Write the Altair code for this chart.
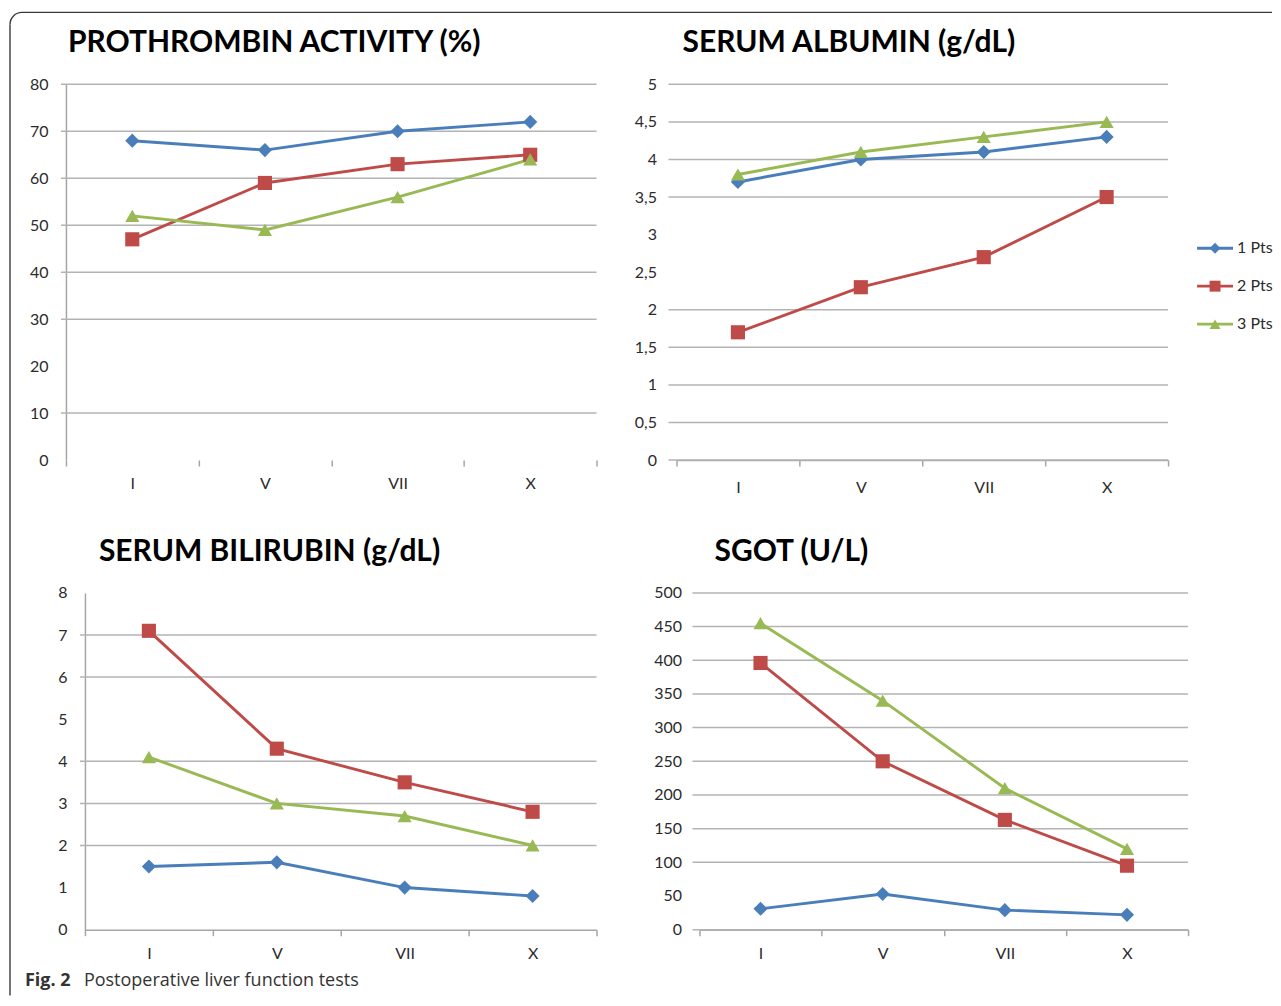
import math
import altair as alt
import pandas as pd

# ---------------- data ----------------
days = ["I", "V", "VII", "X"]
series = ["1 Pts", "2 Pts", "3 Pts"]
colors = ["#4a7ebb", "#be4b48", "#98b954"]
shapes = ["diamond", "square", "triangle-up"]

prothrombin_1 = [68, 66, 70, 72]
prothrombin_2 = [47, 59, 63, 65]
prothrombin_3 = [52, 49, 56, 64]

albumin_1 = [3.7, 4.0, 4.1, 4.3]
albumin_2 = [1.7, 2.3, 2.7, 3.5]
albumin_3 = [3.8, 4.1, 4.3, 4.5]

bilirubin_1 = [1.5, 1.6, 1.0, 0.8]
bilirubin_2 = [7.1, 4.3, 3.5, 2.8]
bilirubin_3 = [4.1, 3.0, 2.7, 2.0]

sgot_1 = [31, 53, 29, 22]
sgot_2 = [396, 250, 163, 95]
sgot_3 = [455, 340, 210, 120]

titles = ["PROTHROMBIN ACTIVITY (%)", "SERUM ALBUMIN (g/dL)",
          "SERUM BILIRUBIN (g/dL)", "SGOT (U/L)"]
caption_bold = "Fig. 2"
caption_text = "Postoperative liver function tests"

# gridlines that are visible in the reference picture
grid_A = [10, 30, 40, 50, 60, 70, 80]
grid_B = [0, 0.5, 1, 1.5, 2, 3.5, 4, 4.5, 5]
grid_C = [2, 3, 4, 6, 7]
grid_D = [0, 100, 150, 200, 250, 300, 350, 400, 450, 500]

# ---------------- style ----------------
GRID = "#b3b3b3"
AXIS = "#a6a6a6"
LABEL = "#2b2b2b"
FONT = "Lato"


def long_df(s1, s2, s3):
    rows = []
    for name, vals in zip(series, [s1, s2, s3]):
        for d, v in zip(days, vals):
            rows.append({"day": d, "series": name, "value": v})
    return pd.DataFrame(rows)


color_enc = alt.Color("series:N", scale=alt.Scale(domain=series, range=colors),
                      legend=None)
shape_enc = alt.Shape("series:N", scale=alt.Scale(domain=series, range=shapes),
                      legend=None)


def panel(df, grid_vals, title, w, h, ymax, ystep, ydom, xdom, ytick, ylabpad,
          xlabpad, tdx, comma=False, legend=False):
    n = int(round(ymax / ystep))
    ticks = [round(i * ystep, 3) for i in range(n + 1)]
    expr = "replace('' + datum.value, '.', ',')" if comma else "'' + datum.value"
    x = alt.X(
        "day:N", sort=days, bandPosition=0.5,
        scale=alt.Scale(type="band", paddingInner=0, paddingOuter=0),
        axis=alt.Axis(title=None, labelAngle=0, tickBand="extent", grid=False,
                      domain=xdom, domainColor=AXIS, domainWidth=1.5,
                      ticks=True, tickColor=AXIS, tickSize=6, tickWidth=1.5,
                      labelPadding=xlabpad, labelFont=FONT, labelFontSize=16,
                      labelColor=LABEL),
    )
    y = alt.Y("value:Q", scale=alt.Scale(domain=[0, ymax], nice=False, zero=True),
              axis=alt.Axis(title=None, values=ticks, grid=False, domain=ydom,
                            domainColor=AXIS, domainWidth=1.5, ticks=False,
                            labelPadding=ylabpad + ytick, labelFont=FONT,
                            labelFontSize=16, labelColor=LABEL, labelExpr=expr))
    grid = alt.Chart(pd.DataFrame({"value": grid_vals})).mark_rule(
        color=GRID, strokeWidth=1.5).encode(
        y=y, x=alt.value(-ytick), x2=alt.value(w))
    base = alt.Chart(df)
    lines = base.mark_line(strokeWidth=2.9).encode(x=x, y=y, color=color_enc)
    pts = base.mark_point(filled=True, size=200, opacity=1).encode(
        x=x, y=y, color=color_enc, shape=shape_enc)
    body = alt.layer(grid, lines, pts)
    if legend:
        ldf = pd.DataFrame({"series": series})
        ly = alt.Y("series:N", sort=series,
                   scale=alt.Scale(type="point", domain=series, range=[164, 240],
                                   padding=0),
                   axis=None)
        lb = alt.Chart(ldf)
        lrule = lb.mark_rule(strokeWidth=2.9).encode(
            x=alt.value(521), x2=alt.value(557), y=ly, color=color_enc)
        lpt = lb.mark_point(filled=True, size=120, opacity=1).encode(
            x=alt.value(539), y=ly, color=color_enc, shape=shape_enc)
        ltxt = lb.mark_text(align="left", baseline="middle", font=FONT,
                            fontSize=16, color=LABEL).encode(
            x=alt.value(561), y=ly, text="series:N")
        body = alt.layer(body, alt.layer(lrule, lpt, ltxt)).resolve_scale(
            y="independent")
    return body.properties(
        width=w, height=h,
        title=alt.TitleParams(text=title, anchor="start", frame="group",
                              font=FONT, fontSize=30, fontWeight="bold",
                              color="#000000", dx=tdx, offset=18),
    )


pA = panel(long_df(prothrombin_1, prothrombin_2, prothrombin_3), grid_A,
           titles[0], 531, 376, 80, 10, True, False, 5, 13, 9, 2)
pB = panel(long_df(albumin_1, albumin_2, albumin_3), grid_B, titles[1],
           492, 376, 5, 0.5, False, True, 8, 12, 13, 6,
           comma=True, legend=True)
pC = panel(long_df(bilirubin_1, bilirubin_2, bilirubin_3), grid_C, titles[2],
           512, 337, 8, 1, True, True, 5, 13, 10, 14)
pD = panel(long_df(sgot_1, sgot_2, sgot_3), grid_D, titles[3],
           489, 337, 500, 50, False, True, 7, 11, 10, 15)

# spacer at the start of the bottom row; also carries frame + caption
one = pd.DataFrame({"k": [0]})
BORDER = "#3a3a3a"
top_line = alt.Chart(one).mark_rule(color=BORDER, strokeWidth=1.4).encode(
    x=alt.value(-44), x2=alt.value(1207), y=alt.value(-581))
left_line = alt.Chart(one).mark_rule(color=BORDER, strokeWidth=1.4).encode(
    x=alt.value(-56), y=alt.value(-569), y2=alt.value(403))
corner = alt.Chart(one).mark_arc(color=BORDER, theta=1.5 * math.pi,
                                 theta2=2 * math.pi, radius=12.7,
                                 radius2=11.3).encode(
    x=alt.value(-44), y=alt.value(-569))
cap1 = alt.Chart(one).mark_text(text=caption_bold, font="Open Sans",
                                fontSize=18, fontWeight="bold", color="#333333",
                                align="left", baseline="alphabetic").encode(
    x=alt.value(-41), y=alt.value(393))
cap2 = alt.Chart(one).mark_text(text=caption_text, font="Open Sans",
                                fontSize=18, color="#333333",
                                align="left", baseline="alphabetic").encode(
    x=alt.value(18), y=alt.value(393))
spacer = alt.layer(top_line, left_line, corner, cap1, cap2).properties(
    width=19, height=10)

top_row = alt.hconcat(pA, pB, spacing=80, bounds="flush")
bottom_pair = alt.hconcat(pC, pD, spacing=103, bounds="flush")
bottom_row = alt.hconcat(spacer, bottom_pair, spacing=0, bounds="flush")

# nested concat groups count as zero height in flush mode, so the spacing
# includes the height of the top row (376)
chart = alt.vconcat(top_row, bottom_row, spacing=509, bounds="flush").properties(
    padding={"left": 1, "top": 3, "right": 0, "bottom": 0},
    background="white",
).configure_view(stroke=None)

chart.save("out.html", embed_options={"renderer": "svg", "actions": False})
